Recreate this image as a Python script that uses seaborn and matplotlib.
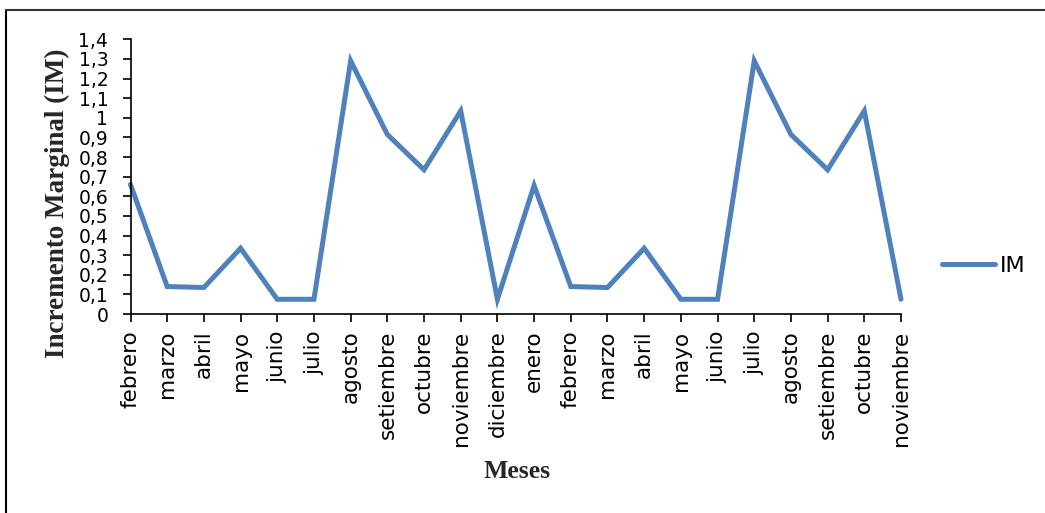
import matplotlib
matplotlib.use("Agg")
import matplotlib.pyplot as plt
from matplotlib.lines import Line2D
from matplotlib.ticker import FuncFormatter, MultipleLocator
import seaborn as sns
import pandas as pd

# Monthly marginal increment series
meses = ['febrero', 'marzo', 'abril', 'mayo', 'junio', 'julio', 'agosto',
         'setiembre', 'octubre', 'noviembre', 'diciembre', 'enero',
         'febrero', 'marzo', 'abril', 'mayo', 'junio', 'julio', 'agosto',
         'setiembre', 'octubre', 'noviembre']
im = [0.66, 0.14, 0.135, 0.335, 0.075, 0.075, 1.29, 0.915, 0.735, 1.035,
      0.075, 0.655, 0.14, 0.135, 0.335, 0.075, 0.075, 1.29, 0.915, 0.735,
      1.035, 0.075]

sns.set_theme(style="white")
plt.rcParams['font.family'] = ['DejaVu Sans']

df = pd.DataFrame({'pos': range(len(meses)), 'IM': im})

W, H = 1045, 513
fig = plt.figure(figsize=(W / 100, H / 100), dpi=100)
x0, x1, y0, y1 = 130.5, 901, 314, 39.3
ax = fig.add_axes([x0 / W, 1 - y0 / H, (x1 - x0) / W, (y0 - y1) / H])

sns.lineplot(data=df, x='pos', y='IM', ax=ax, color='#4F81BD',
             linewidth=3.6, label='IM', solid_joinstyle='miter',
             solid_capstyle='round', clip_on=False)

ax.set_xlim(0, len(meses) - 1)
ax.set_ylim(0, 1.4)
ax.yaxis.set_major_locator(MultipleLocator(0.1))


def coma(v, _):
    s = f"{v:.1f}"
    if s.endswith('.0'):
        s = s[:-2]
    return s.replace('.', ',')


ax.yaxis.set_major_formatter(FuncFormatter(coma))
ax.set_xticks(range(len(meses)))
ax.set_xticklabels(meses, rotation=90)

for side in ('top', 'right'):
    ax.spines[side].set_visible(False)
for side in ('left', 'bottom'):
    ax.spines[side].set_color('black')
    ax.spines[side].set_linewidth(1.2)

ax.tick_params(axis='both', which='major', direction='out', length=6,
               width=1.2, color='black', labelcolor='black',
               left=True, bottom=True)
ax.tick_params(axis='y', labelsize=13.5, pad=10)
ax.tick_params(axis='x', labelsize=15.5, pad=6)

ax.set_xlabel('Meses', family='Liberation Serif', fontweight='bold',
              fontsize=18.5)
ax.xaxis.label.set_va('center')
ax.xaxis.set_label_coords(0.5016, -0.575)

ax.set_ylabel('Incremento Marginal (IM)', family='Liberation Serif',
              fontweight='bold', fontsize=19.5)
ax.yaxis.label.set_va('center')
ax.yaxis.set_label_coords(-0.0954, 0.404)

leg = ax.legend(loc='center left', bbox_to_anchor=(942 / W, 1 - 265.5 / H),
                bbox_transform=fig.transFigure, frameon=False,
                fontsize=16, handlelength=2.4, handletextpad=0.2,
                borderpad=0, borderaxespad=0)
for t in leg.get_texts():
    t.set_color('black')

# Outer frame (top and left edges)
fig.add_artist(Line2D([6 / W, 6 / W], [0, 1 - 9.5 / H], color='black',
                      linewidth=1.5, transform=fig.transFigure))
fig.add_artist(Line2D([6 / W, 1], [1 - 9.5 / H, 1 - 9.5 / H], color='#333333',
                      linewidth=1.5, transform=fig.transFigure))

fig.savefig('out.png', dpi=100)
